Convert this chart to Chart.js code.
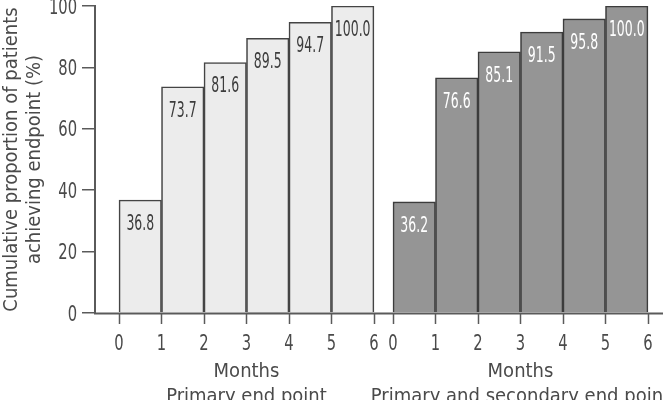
<!DOCTYPE html>
<html><head><meta charset="utf-8">
<script src="https://cdn.jsdelivr.net/npm/chart.js@4/dist/chart.umd.min.js"></script>
<style>html,body{margin:0;padding:0;background:#fff;overflow:hidden}#wrap{width:663px;height:400px;position:relative}</style>
</head><body><div id="wrap"><canvas id="c" width="663" height="400"></canvas></div>
<script>
const months = [0, 1, 2, 3, 4, 5, 6];
const monthLabels = ['0', '1', '2', '3', '4', '5', '6'];
const primaryValues = [36.8, 73.7, 81.6, 89.5, 94.7, 100.0];
const primarySecondaryValues = [36.2, 76.6, 85.1, 91.5, 95.8, 100.0];
const yTicks = [0, 20, 40, 60, 80, 100];
const yTitle = ['Cumulative proportion of patients', 'achieving endpoint (%)'];
const panelTitles = [['Months', 'Primary end point'], ['Months', 'Primary and secondary end point']];

const FONT = '"Liberation Sans Narrow", "DejaVu Sans Condensed", "DejaVu Sans", sans-serif';
const TXT = '#4a4a4a';
const AX = '#5a5a5a';

const toPoints = vals => vals.map((v, i) => ({ x: months[i] + 0.5, y: v }));

function squeezedText(ctx, text, x, y, align, sx) {
  ctx.save();
  ctx.translate(x, y);
  ctx.scale(sx, 1);
  ctx.textAlign = align;
  ctx.textBaseline = 'alphabetic';
  ctx.fillText(text, 0, 0);
  ctx.restore();
}

function xAxis(min, max) {
  return {
    type: 'linear', position: 'bottom', stack: 'months', stackWeight: 1,
    min: min, max: max, offset: false,
    afterBuildTicks: s => { s.ticks = months.map(v => ({ value: v })); },
    ticks: { display: false, autoSkip: false, maxRotation: 0, minRotation: 0 },
    grid: { offset: false, display: false, drawOnChartArea: false, drawTicks: false },
    border: { display: false },
    afterFit: s => { s.height = 87; s.paddingLeft = 0; s.paddingRight = 0; }
  };
}

const axisDecor = {
  id: 'axisDecor',
  afterDraw(chart) {
    const ctx = chart.ctx;
    const area = chart.chartArea;
    ctx.save();
    ctx.strokeStyle = AX;
    ctx.lineWidth = 2;
    ctx.beginPath();
    ctx.moveTo(area.left - 1, area.bottom + 0.5);
    ctx.lineTo(chart.width, area.bottom + 0.5);
    ctx.stroke();

    ctx.fillStyle = TXT;
    ctx.font = '21px ' + FONT;
    const ys = chart.scales.y;
    ys.ticks.forEach(t => {
      squeezedText(ctx, String(t.value), ys.right - 13 - 5, ys.getPixelForValue(t.value) + 7.5, 'right', 0.78);
    });
    ['x0', 'x1'].forEach((id, k) => {
      const s = chart.scales[id];
      s.ticks.forEach((t, i) => {
        const px = Math.round(s.getPixelForValue(t.value)) + 0.5;
        ctx.save();
        ctx.strokeStyle = AX;
        ctx.lineWidth = 1.5;
        ctx.beginPath();
        ctx.moveTo(px, s.top);
        ctx.lineTo(px, s.top + 11);
        ctx.stroke();
        ctx.restore();
        squeezedText(ctx, monthLabels[i], s.getPixelForValue(t.value), s.top + 37, 'center', 0.78);
      });
      const cx = s.getPixelForValue(3);
      ctx.font = '20px ' + FONT;
      ctx.textAlign = 'center';
      ctx.textBaseline = 'alphabetic';
      panelTitles[k].forEach((txt, j) => ctx.fillText(txt, cx, s.top + 64 + j * 25));
      ctx.font = '21px ' + FONT;
    });
    ctx.restore();
  }
};

const barLabels = {
  id: 'barLabels',
  afterDatasetsDraw(chart) {
    const ctx = chart.ctx;
    chart.data.datasets.forEach((ds, di) => {
      const meta = chart.getDatasetMeta(di);
      meta.data.forEach((el, i) => {
        ctx.save();
        ctx.font = '22px ' + FONT;
        ctx.fillStyle = ds.labelColor;
        squeezedText(ctx, ds.data[i].y.toFixed(1), el.x, el.y + 30, 'center', 0.63);
        ctx.restore();
      });
    });
  }
};

new Chart(document.getElementById('c'), {
  type: 'bar',
  data: {
    datasets: [
      { data: toPoints(primaryValues), xAxisID: 'x0', yAxisID: 'y', grouped: false,
        backgroundColor: '#ececec', borderColor: '#444444', borderWidth: 1.6,
        barPercentage: 1, categoryPercentage: 1, labelColor: '#3c3c3c' },
      { data: toPoints(primarySecondaryValues), xAxisID: 'x1', yAxisID: 'y', grouped: false,
        backgroundColor: '#959595', borderColor: '#3c3c3c', borderWidth: 1.6,
        barPercentage: 1, categoryPercentage: 1, labelColor: '#ffffff' }
    ]
  },
  options: {
    responsive: false, animation: false, devicePixelRatio: 1,
    layout: { padding: { top: 6, right: 5, left: 0, bottom: 0 } },
    plugins: { legend: { display: false }, tooltip: { enabled: false } },
    scales: {
      x0: xAxis(-0.565, 6.06),
      x1: xAxis(-0.388, 6.236),
      y: {
        type: 'linear', position: 'left', min: 0, max: 100,
        afterBuildTicks: s => { s.ticks = yTicks.map(v => ({ value: v })); },
        ticks: { display: false },
        grid: { drawOnChartArea: false, drawTicks: true, tickLength: 13, color: AX, lineWidth: 1.5 },
        border: { display: true, color: AX, width: 2 },
        title: { display: true, text: yTitle, color: TXT, padding: { top: 0, bottom: 0 },
          font: { family: FONT, size: 20, lineHeight: 1.15 } },
        afterFit: s => { s.width = 95; s.paddingTop = 0; s.paddingBottom = 0; }
      }
    }
  },
  plugins: [barLabels, axisDecor]
});
</script></body></html>
